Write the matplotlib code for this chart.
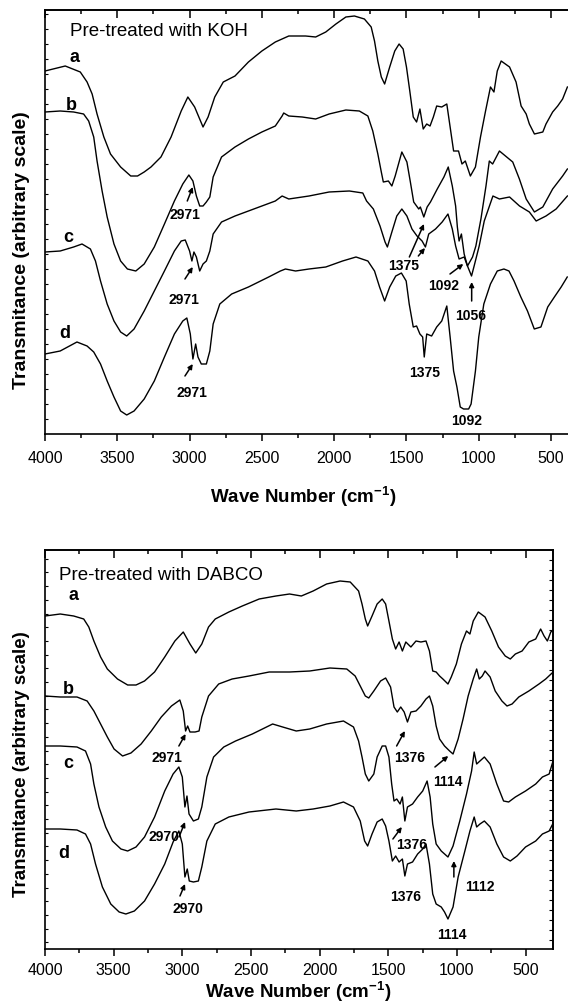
import numpy as np
import matplotlib
matplotlib.use('Agg')
import matplotlib.pyplot as plt
from matplotlib.ticker import MultipleLocator

plt.rcParams['font.family'] = 'Liberation Sans'
plt.rcParams['mathtext.fontset'] = 'custom'
plt.rcParams['mathtext.rm'] = 'Liberation Sans:bold'
plt.rcParams['mathtext.bf'] = 'Liberation Sans:bold'

# ---------------- KOH panel, spectra ----------------
koh_a_wn = [4000, 3860, 3756, 3709, 3674, 3640, 3593, 3547, 3477, 3407, 3360, 3314, 3267, 3198,
            3128, 3058, 3012, 2965, 2907, 2872, 2826, 2767, 2686, 2593, 2500, 2407, 2314, 2198,
            2128, 2058, 1988, 1919, 1860, 1791, 1744, 1721, 1698, 1674, 1651, 1616, 1581, 1551,
            1523, 1500, 1477, 1453, 1430, 1407, 1384, 1360, 1337, 1314, 1291, 1256, 1221, 1198,
            1174, 1140, 1116, 1093, 1058, 1023, 988, 953, 919, 895, 872, 845, 787, 742, 707, 672,
            650, 615, 557, 535, 489, 454, 420, 387]
koh_a_tr = [363, 368, 362, 352, 340, 320, 297, 280, 267, 258, 258, 262, 267, 277,
            297, 323, 337, 327, 307, 317, 337, 352, 358, 372, 383, 392, 398, 398,
            397, 402, 410, 417, 418, 415, 407, 393, 373, 357, 350, 367, 383, 390,
            385, 367, 343, 317, 312, 325, 305, 310, 308, 317, 328, 327, 330, 307,
            283, 283, 270, 273, 258, 267, 297, 323, 347, 342, 363, 373, 367, 352, 328, 320,
            310, 300, 302, 310, 322, 328, 335, 347]

koh_b_wn = [4000, 3895, 3802, 3733, 3698, 3663, 3640, 3605, 3570, 3523, 3477, 3430, 3372, 3314,
            3244, 3174, 3105, 3047, 3005, 2977, 2953, 2930, 2907, 2884, 2860, 2837, 2779, 2686,
            2593, 2500, 2407, 2360, 2349, 2314, 2221, 2128, 2035, 1919, 1826, 1767, 1733, 1698,
            1674, 1660, 1625, 1601, 1578, 1532, 1497, 1473, 1450, 1415, 1404, 1380, 1357, 1334,
            1287, 1241, 1211, 1183, 1160, 1148, 1136, 1120, 1101, 1078, 1043, 1020, 985, 950,
            927, 904, 857, 765, 719, 672, 615, 557, 489, 420, 387]
koh_b_tr = [322, 323, 322, 320, 313, 297, 273, 243, 217, 190, 173, 165, 163, 170,
            187, 210, 233, 250, 259, 253, 238, 228, 228, 232, 237, 257, 277, 287,
            295, 302, 308, 318, 321, 318, 317, 315, 320, 324, 323, 318, 303, 280,
            262, 252, 253, 248, 258, 282, 272, 252, 232, 225, 227, 217, 227, 232,
            245, 257, 267, 248, 228, 207, 193, 200, 180, 168, 177, 188, 215, 248,
            273, 270, 283, 272, 255, 235, 222, 227, 245, 258, 265]

koh_c_wn = [4000, 3895, 3802, 3744, 3686, 3651, 3616, 3570, 3523, 3477, 3435, 3384, 3314, 3244,
            3174, 3105, 3058, 3030, 3000, 2984, 2970, 2953, 2930, 2907, 2884, 2860, 2837, 2779,
            2686, 2593, 2500, 2407, 2360, 2314, 2174, 2035, 1895, 1802, 1776, 1729, 1683, 1648,
            1632, 1601, 1567, 1532, 1497, 1462, 1427, 1392, 1369, 1346, 1299, 1253, 1213, 1183,
            1160, 1136, 1101, 1078, 1050, 1032, 997, 962, 902, 857, 787, 718, 650, 603, 535,
            465, 387]
koh_c_tr = [182, 183, 187, 190, 185, 173, 153, 130, 113, 102, 98, 105, 123, 143,
            163, 183, 193, 194, 183, 173, 182, 177, 163, 170, 173, 183, 200, 212,
            218, 223, 228, 233, 238, 235, 238, 242, 243, 241, 233, 225, 208, 192,
            187, 202, 218, 225, 218, 205, 198, 193, 187, 200, 205, 212, 220, 205,
            188, 175, 177, 168, 158, 168, 188, 213, 238, 235, 237, 228, 222, 213, 218,
            225, 238]

koh_d_wn = [4000, 3895, 3779, 3709, 3663, 3616, 3570, 3523, 3477, 3435, 3384, 3314, 3244, 3174,
            3105, 3047, 3019, 2995, 2977, 2958, 2942, 2919, 2884, 2860, 2837, 2791, 2709, 2593,
            2453, 2372, 2337, 2267, 2174, 2058, 1942, 1849, 1767, 1721, 1686, 1651, 1616, 1574,
            1535, 1502, 1481, 1453, 1430, 1407, 1388, 1377, 1360, 1326, 1291, 1256, 1221, 1198,
            1174, 1151, 1128, 1105, 1070, 1053, 1023, 1000, 965, 919, 872, 826, 791, 756, 709,
            663, 616, 570, 523, 477, 430, 388]
koh_d_tr = [80, 83, 92, 88, 82, 70, 53, 37, 23, 19, 23, 35, 53, 77,
            100, 113, 116, 100, 75, 90, 77, 70, 70, 83, 110, 130, 140, 147,
            157, 163, 165, 163, 165, 167, 173, 177, 173, 163, 147, 133, 147, 158,
            161, 153, 130, 107, 108, 100, 97, 77, 100, 98, 107, 113, 128, 97,
            63, 47, 27, 25, 25, 30, 63, 97, 130, 150, 163, 165, 163, 153, 137,
            123, 105, 107, 127, 137, 147, 157]

# ---------------- DABCO panel ----------------
dab_a_wn = [4000, 3889, 3791, 3718, 3681, 3644, 3595, 3546, 3472, 3398, 3337, 3275, 3202, 3128,
            3054, 2993, 2944, 2902, 2858, 2809, 2760, 2661, 2563, 2440, 2318, 2219, 2133, 2047,
            1949, 1851, 1777, 1716, 1691, 1667, 1650, 1618, 1581, 1544, 1519, 1495, 1470, 1446,
            1421, 1397, 1372, 1335, 1298, 1262, 1225, 1200, 1176, 1151, 1126, 1102, 1065, 1041,
            1004, 967, 930, 905, 881, 844, 795, 746, 697, 648, 611, 574, 525, 476, 426, 390,
            365, 341, 316, 291]
dab_a_tr = [333, 335, 333, 330, 322, 308, 292, 280, 270, 264, 264, 268, 277, 292,
            308, 317, 305, 296, 305, 322, 330, 337, 343, 350, 353, 355, 353, 358,
            365, 368, 367, 358, 345, 330, 323, 333, 345, 350, 345, 328, 310, 300,
            307, 298, 307, 302, 308, 307, 308, 298, 278, 277, 273, 270, 265, 272,
            285, 305, 318, 315, 328, 337, 332, 318, 302, 293, 290, 295, 298, 307, 310, 320,
            313, 308, 317, 320]

dab_b_wn = [4000, 3889, 3767, 3693, 3644, 3595, 3546, 3497, 3435, 3374, 3300, 3226, 3153, 3079,
            3018, 2993, 2976, 2961, 2944, 2907, 2878, 2858, 2809, 2735, 2637, 2514, 2367, 2219,
            2072, 1925, 1802, 1741, 1704, 1667, 1642, 1605, 1556, 1519, 1483, 1458, 1434, 1409,
            1384, 1360, 1335, 1298, 1262, 1225, 1200, 1176, 1151, 1126, 1090, 1053, 1028, 991,
            955, 918, 881, 856, 837, 815, 795, 758, 721, 672, 635, 598, 549, 476, 402, 353, 291]
dab_b_tr = [253, 252, 252, 248, 238, 225, 212, 200, 193, 196, 205, 218, 232, 243,
            249, 238, 218, 223, 217, 217, 218, 232, 253, 265, 270, 273, 277, 277,
            278, 281, 280, 273, 263, 253, 251, 258, 268, 271, 262, 242, 237, 242,
            237, 227, 237, 238, 243, 250, 253, 243, 223, 210, 203, 198, 195, 210,
            230, 253, 270, 280, 270, 273, 278, 272, 258, 248, 243, 245, 252, 258, 265, 270, 278]

dab_c_wn = [4000, 3889, 3767, 3705, 3668, 3644, 3607, 3558, 3509, 3447, 3398, 3337, 3275, 3202,
            3128, 3067, 3025, 3000, 2981, 2966, 2951, 2919, 2883, 2858, 2821, 2772, 2698, 2612,
            2490, 2342, 2269, 2170, 2072, 1949, 1826, 1753, 1716, 1691, 1667, 1642, 1605, 1581,
            1544, 1519, 1495, 1475, 1458, 1438, 1414, 1397, 1379, 1360, 1323, 1286, 1249, 1217,
            1195, 1176, 1151, 1114, 1065, 1028, 979, 930, 893, 874, 856, 832, 800, 758, 709,
            660, 623, 574, 500, 426, 377, 328, 291]
dab_c_tr = [203, 203, 202, 198, 185, 165, 142, 122, 108, 100, 98, 102, 112, 132,
            158, 175, 182, 172, 142, 153, 135, 128, 130, 142, 172, 192, 202, 208,
            215, 225, 222, 218, 220, 225, 228, 222, 208, 192, 175, 168, 175, 192,
            203, 203, 192, 165, 148, 150, 145, 152, 128, 142, 145, 152, 158, 168,
            152, 125, 105, 98, 92, 103, 128, 155, 178, 197, 185, 188, 192, 185, 165,
            148, 147, 152, 158, 165, 172, 175, 192]

dab_d_wn = [4000, 3889, 3767, 3705, 3668, 3632, 3582, 3521, 3460, 3411, 3349, 3275, 3202, 3128,
            3067, 3025, 3000, 2981, 2964, 2949, 2919, 2883, 2858, 2821, 2760, 2661, 2514, 2318,
            2170, 2047, 1925, 1826, 1753, 1704, 1672, 1650, 1618, 1581, 1544, 1519, 1495, 1470,
            1446, 1421, 1397, 1379, 1360, 1323, 1286, 1249, 1225, 1200, 1176, 1151, 1114, 1090,
            1065, 1028, 991, 942, 905, 874, 856, 832, 800, 758, 709, 660, 611, 562, 500, 426,
            377, 328, 291]
dab_d_tr = [120, 120, 119, 115, 105, 85, 62, 45, 37, 35, 38, 48, 65, 85,
            107, 118, 105, 72, 80, 68, 67, 68, 82, 108, 125, 132, 137, 140,
            138, 140, 143, 147, 142, 128, 108, 103, 115, 127, 130, 123, 108, 88,
            93, 87, 90, 73, 85, 87, 95, 100, 105, 85, 55, 45, 42, 37,
            30, 42, 72, 98, 118, 132, 122, 125, 128, 122, 105, 92, 88, 93, 102, 108,
            115, 118, 128]

curve_names = ['a', 'b', 'c', 'd']

# labels: (text, text position, list of arrows (tail, head))
koh_notes = [
    ('2971', (3032, 220), [((3016, 233), (2978, 247))]),
    ('2971', (3039, 135), [((3032, 155), (2978, 167))]),
    ('2971', (2983, 42), [((3032, 58), (2978, 70))]),
    ('1375', (1522, 169), [((1480, 177), (1379, 210)), ((1418, 178), (1372, 186))]),
    ('1092', (1245, 149), [((1199, 160), (1107, 170))]),
    ('1056', (1054, 119), [((1049, 133), (1049, 152))]),
    ('1375', (1372, 62), []),
    ('1092', (1083, 14), []),
]
koh_letters = [(3799, 377), (3816, 329), (3839, 198), (3862, 102)]

dab_notes = [
    ('2971', (3112, 192), [((3025, 203), (2976, 215))]),
    ('1376', (1342, 192), [((1439, 203), (1379, 218))]),
    ('1114', (1063, 168), [((1160, 182), (1063, 193))]),
    ('2970', (3134, 113), [((3024, 112), (2980, 127))]),
    ('1376', (1328, 105), [((1466, 110), (1401, 122))]),
    ('1112', (833, 63), [((1022, 72), (1022, 88))]),
    ('2970', (2959, 41), [((3017, 53), (2980, 65))]),
    ('1376', (1371, 53), []),
    ('1114', (1036, 15), []),
]
dab_letters = [(3794, 355), (3830, 260), (3830, 187), (3862, 96)]


def frame(ax, xmax, ymax, yticks, pad):
    ax.set_xlim(4000, xmax)
    ax.set_ylim(0, ymax)
    ax.xaxis.set_major_locator(MultipleLocator(500))
    ax.xaxis.set_minor_locator(MultipleLocator(250))
    ax.tick_params(axis='x', which='major', direction='out', length=5, width=1.1,
                   labelsize=11.5, pad=pad)
    ax.tick_params(axis='x', which='minor', direction='out', length=3, width=1.1)
    ax.set_yticks(yticks)
    ax.tick_params(axis='y', which='major', direction='in', length=2.5, width=0.8,
                   labelleft=False)
    for sp in ax.spines.values():
        sp.set_linewidth(1.2)
    top = ax.secondary_xaxis('top')
    top.xaxis.set_major_locator(MultipleLocator(500))
    top.xaxis.set_minor_locator(MultipleLocator(250))
    top.tick_params(axis='x', which='major', direction='in', length=6, width=1.1, labeltop=False)
    top.tick_params(axis='x', which='minor', direction='in', length=3, width=1.1)
    top.spines['top'].set_linewidth(1.2)


def draw(ax, curves, letters, notes, title, title_pos):
    for (wn, tr) in curves:
        ax.plot(wn, tr, color='black', lw=1.0)
    for name, (x, y) in zip(curve_names, letters):
        ax.text(x, y, name, fontsize=13, fontweight='bold', ha='center', va='center')
    for txt, pos, arrows in notes:
        ax.text(pos[0], pos[1], txt, fontsize=10, fontweight='bold', ha='center', va='center')
        for tail, head in arrows:
            ax.annotate('', xy=head, xytext=tail,
                        arrowprops=dict(arrowstyle='-|>', mutation_scale=7, lw=1.1,
                                        color='black', shrinkA=0, shrinkB=0))
    ax.text(title_pos[0], title_pos[1], title, fontsize=13.5, ha='left', va='center')


fig = plt.figure(figsize=(5.68, 10.04), dpi=100)

ax1 = fig.add_axes([45 / 568, 1 - 435 / 1004, 523.4 / 568, 424 / 1004])
frame(ax1, 380, 424, np.arange(15, 424, 15), 6.5)
ax1.spines['right'].set_visible(False)
draw(ax1, [(koh_a_wn, koh_a_tr), (koh_b_wn, koh_b_tr), (koh_c_wn, koh_c_tr), (koh_d_wn, koh_d_tr)],
     koh_letters, koh_notes, 'Pre-treated with KOH', (3827, 403))

ax2 = fig.add_axes([45 / 568, 1 - 950 / 1004, 508 / 568, 399 / 1004])
frame(ax2, 300, 399, np.arange(6.7, 399, 13.7), 4.5)
right = ax2.secondary_yaxis('right')
right.set_yticks(np.arange(9, 399, 10))
right.tick_params(axis='y', direction='in', length=3, width=0.8, labelright=False)
right.spines['right'].set_linewidth(1.2)
draw(ax2, [(dab_a_wn, dab_a_tr), (dab_b_wn, dab_b_tr), (dab_c_wn, dab_c_tr), (dab_d_wn, dab_d_tr)],
     dab_letters, dab_notes, 'Pre-treated with DABCO', (3896, 375))

xlab = 'Wave Number (cm$^{-1}$)'
ylab = 'Transmitance (arbitrary scale)'
fig.text(303 / 568, 1 - 497 / 1004, xlab, ha='center', va='center', fontsize=13.5, fontweight='bold')
fig.text(298 / 568, 1 - 992 / 1004, xlab, ha='center', va='center', fontsize=13.5, fontweight='bold')
fig.text(22 / 568, 1 - 250 / 1004, ylab, rotation=90, ha='center', va='center', fontsize=14, fontweight='bold')
fig.text(22 / 568, 1 - 764 / 1004, ylab, rotation=90, ha='center', va='center', fontsize=13.5, fontweight='bold')

fig.savefig('out.png', dpi=100)
